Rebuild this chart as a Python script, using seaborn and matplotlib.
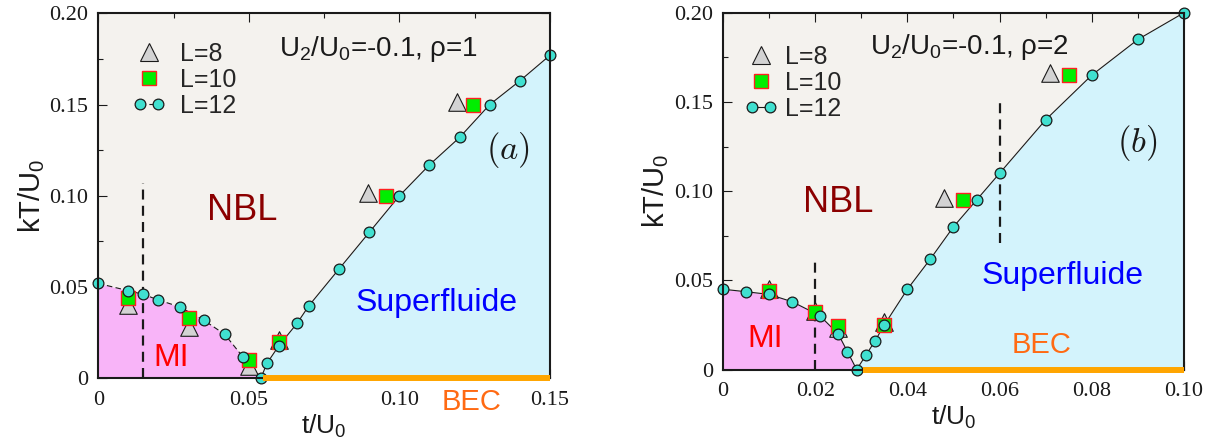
import numpy as np
import pandas as pd
import matplotlib
matplotlib.use("Agg")
import matplotlib.pyplot as plt
import seaborn as sns
from matplotlib.lines import Line2D
from matplotlib.legend_handler import HandlerLine2D
from matplotlib.ticker import MultipleLocator

# ---------------- data ----------------
# panel (a): U2/U0=-0.1, rho=1
ta_L12 = [0.0, 0.010, 0.015, 0.020, 0.027, 0.035, 0.042, 0.048, 0.054,
          0.056, 0.060, 0.066, 0.070, 0.080, 0.090, 0.100, 0.110, 0.120,
          0.130, 0.140, 0.150]
ya_L12 = [0.052, 0.048, 0.046, 0.0429, 0.0392, 0.0319, 0.0241, 0.0118, 0.0,
          0.0082, 0.0179, 0.0301, 0.0399, 0.060, 0.080, 0.100, 0.117, 0.132,
          0.150, 0.163, 0.177]
a_mi_end = 9          # number of L=12 points on the MI boundary (incl. tip)
ta_L10 = [0.010, 0.030, 0.050, 0.060, 0.0955, 0.1245]
ya_L10 = [0.0438, 0.0329, 0.0100, 0.0200, 0.100, 0.150]
ta_L8 = [0.010, 0.030, 0.050, 0.060, 0.0897, 0.1192]
ya_L8 = [0.0400, 0.0280, 0.0065, 0.0210, 0.1015, 0.1515]
a_bec = [0.0548, 0.150]
a_vdash = [(0.015, 0.0, 0.107)]

# panel (b): U2/U0=-0.1, rho=2
tb_L12 = [0.0, 0.005, 0.010, 0.015, 0.021, 0.025, 0.027, 0.029, 0.031,
          0.033, 0.035, 0.040, 0.045, 0.050, 0.055, 0.060, 0.070, 0.080,
          0.090, 0.100]
yb_L12 = [0.045, 0.0436, 0.0421, 0.038, 0.0302, 0.0199, 0.0100, 0.0, 0.008,
          0.0161, 0.025, 0.045, 0.062, 0.080, 0.095, 0.110, 0.140, 0.165,
          0.185, 0.200]
b_mi_end = 8
tb_L10 = [0.010, 0.020, 0.025, 0.035, 0.052, 0.075]
yb_L10 = [0.0442, 0.032, 0.0244, 0.025, 0.095, 0.165]
tb_L8 = [0.010, 0.020, 0.025, 0.035, 0.048, 0.071]
yb_L8 = [0.0452, 0.033, 0.023, 0.0264, 0.096, 0.166]
b_bec = [0.0303, 0.100]
b_vdash = [(0.020, 0.0, 0.0614), (0.060, 0.071, 0.150)]

xt_a = [0, 0.05, 0.10, 0.15]
xtl_a = ["0", "0.05", "0.10", "0.15"]
xt_b = [0, 0.02, 0.04, 0.06, 0.08, 0.10]
xtl_b = ["0", "0.02", "0.04", "0.06", "0.08", "0.10"]
yt = [0, 0.05, 0.10, 0.15, 0.20]
ytl = ["0", "0.05", "0.10", "0.15", "0.20"]

legend_labels = ["L=8", "L=10", "L=12"]

# ---------------- style ----------------
sns.set_theme(style="ticks")
plt.rcParams["font.family"] = ["Liberation Sans", "DejaVu Sans"]
plt.rcParams["font.serif"] = ["Liberation Serif", "DejaVu Serif"]
plt.rcParams["mathtext.fontset"] = "custom"
plt.rcParams["mathtext.rm"] = "Liberation Sans"
plt.rcParams["mathtext.it"] = "Liberation Sans:italic"
plt.rcParams["mathtext.bf"] = "Liberation Sans:bold"

C_NBL = "#f4f2ee"
C_MI = "#f8b4f8"
C_SF = "#d3f3fc"
C_CIRC = "#40e0d0"
C_SQ = "#00ee00"
C_SQE = "#ff2020"
C_TRI = "#d3d3d3"
C_BEC = "#ffa500"
SERIF = ["Liberation Serif", "DejaVu Serif"]

fig = plt.figure(figsize=(12.1, 4.43), dpi=100)
ax_a = fig.add_axes([0.0812, 0.1460, 0.3733, 0.8239])
ax_b = fig.add_axes([0.5975, 0.1659, 0.3810, 0.8054])

S_CIRC, S_SQ, S_TRI = 60, 100, 160


def draw_panel(ax, t12, y12, mi_end, t10, y10, t8, y8, bec, vdash,
               xlim, xt, xtl, xminor, mi_style, tag, title, texts,
               leg_anchor, leg_pad):
    ax.set_facecolor(C_NBL)
    mi_t, mi_y = t12[:mi_end], y12[:mi_end]
    sf_t, sf_y = t12[mi_end - 1:], y12[mi_end - 1:]
    ax.fill_between(mi_t, mi_y, 0, color=C_MI, lw=0, zorder=1)
    ax.fill_between(sf_t, sf_y, 0, color=C_SF, lw=0, zorder=1)

    df_mi = pd.DataFrame({"t": mi_t, "y": mi_y})
    df_sf = pd.DataFrame({"t": sf_t, "y": sf_y})
    sns.lineplot(data=df_mi, x="t", y="y", ax=ax, color="k", lw=0.8,
                 sort=False, estimator=None, zorder=3)
    ax.lines[-1].set_linestyle(mi_style)
    sns.lineplot(data=df_sf, x="t", y="y", ax=ax, color="k", lw=0.8,
                 sort=False, estimator=None, zorder=3)

    for (xv, y0, y1) in vdash:
        ax.plot([xv, xv], [y0, y1], color="k", lw=1.6,
                linestyle=(0, (4.5, 2.8)), zorder=2.5)

    sns.scatterplot(x=t8, y=y8, ax=ax, marker="^", s=S_TRI, color=C_TRI,
                    edgecolor="k", linewidth=0.8, zorder=4, clip_on=False)
    sns.scatterplot(x=t10, y=y10, ax=ax, marker="s", s=S_SQ, color=C_SQ,
                    edgecolor=C_SQE, linewidth=1.0, zorder=5, clip_on=False)
    sns.scatterplot(x=t12, y=y12, ax=ax, marker="o", s=S_CIRC, color=C_CIRC,
                    edgecolor="k", linewidth=0.9, zorder=6, clip_on=False)

    ax.plot(bec, [0, 0], color=C_BEC, lw=4.3, solid_capstyle="butt",
            zorder=7, clip_on=False)

    ax.set_xlim(*xlim)
    ax.set_ylim(0, 0.2)
    ax.set_xticks(xt)
    ax.set_xticklabels(xtl)
    ax.set_yticks(yt)
    ax.set_yticklabels(ytl)
    ax.xaxis.set_minor_locator(MultipleLocator(xminor))
    ax.yaxis.set_minor_locator(MultipleLocator(0.025))
    ax.tick_params(which="both", direction="in", top=True, right=True,
                   width=0.8, color="k")
    ax.tick_params(which="major", length=6.5)
    ax.tick_params(which="minor", length=3.5)
    ax.tick_params(axis="x", which="major", pad=9)
    ax.tick_params(axis="y", which="major", pad=7)
    for lab in ax.get_xticklabels() + ax.get_yticklabels():
        lab.set_family(SERIF)
        lab.set_fontsize(16)
        lab.set_color("k")
    for sp in ax.spines.values():
        sp.set_linewidth(1.5)
        sp.set_color("k")
        sp.set_visible(True)
        sp.set_zorder(6.5)
    ax.set_xlabel(r"t/U$_0$", fontsize=19, color="k", labelpad=2)
    ax.set_ylabel(r"kT/U$_0$", fontsize=21, color="k", labelpad=2)

    # region labels
    for (s, x, y, col, fs) in texts:
        ax.text(x, y, s, color=col, fontsize=fs, ha="center", va="baseline",
                zorder=8)
    ax.text(title[1], title[2], title[0], fontsize=20, color="k",
            ha="left", va="baseline", zorder=8)
    t = ax.text(tag[1], tag[2], tag[0], fontsize=25, color="k",
                ha="center", va="center", zorder=8)
    t.set_math_fontfamily("cm")

    # legend
    h8 = Line2D([], [], marker="^", ls="none", ms=12.6, mfc=C_TRI, mec="k",
                mew=0.8)
    h10 = Line2D([], [], marker="s", ls="none", ms=10.0, mfc=C_SQ, mec=C_SQE,
                 mew=1.0)
    h12 = Line2D([], [], marker="o", ls=mi_style, lw=0.8, color="k", ms=7.7,
                 mfc=C_CIRC, mec="k", mew=0.9)
    ax.legend([h8, h10, h12], legend_labels, loc="upper left",
              bbox_to_anchor=leg_anchor, frameon=False, fontsize=18,
              handlelength=1.32, handletextpad=leg_pad, labelspacing=0.08,
              borderpad=0, borderaxespad=0, numpoints=1,
              handler_map={h12: HandlerLine2D(numpoints=2)})


draw_panel(ax_a, ta_L12, ya_L12, a_mi_end, ta_L10, ya_L10, ta_L8, ya_L8,
           a_bec, a_vdash, (0, 0.15), xt_a, xtl_a, 0.025,
           (0, (5, 3)), (r"$(a)$", 0.136, 0.125),
           (r"U$_2$/U$_0$=-0.1, ρ=1", 0.060, 0.1768),
           [("NBL", 0.0477, 0.0866, "#8b0000", 26),
            ("MI", 0.0242, 0.0067, "#ff0000", 23),
            ("Superfluide", 0.1123, 0.0369, "#0000ff", 23),
            ("BEC", 0.124, -0.0174, "#ff6a13", 21)],
           (0.075, 0.922), 0.6)

draw_panel(ax_b, tb_L12, yb_L12, b_mi_end, tb_L10, yb_L10, tb_L8, yb_L8,
           b_bec, b_vdash, (0, 0.10), xt_b, xtl_b, 0.01,
           "-", (r"$(b)$", 0.0898, 0.127),
           (r"U$_2$/U$_0$=-0.1, ρ=2", 0.032, 0.177),
           [("NBL", 0.0249, 0.0885, "#8b0000", 26),
            ("MI", 0.0091, 0.0128, "#ff0000", 23),
            ("Superfluide", 0.0737, 0.0482, "#0000ff", 23),
            ("BEC", 0.069, 0.009, "#ff6a13", 21)],
           (0.047, 0.909), 0.3)

fig.savefig("out.png", dpi=100, facecolor="white")
